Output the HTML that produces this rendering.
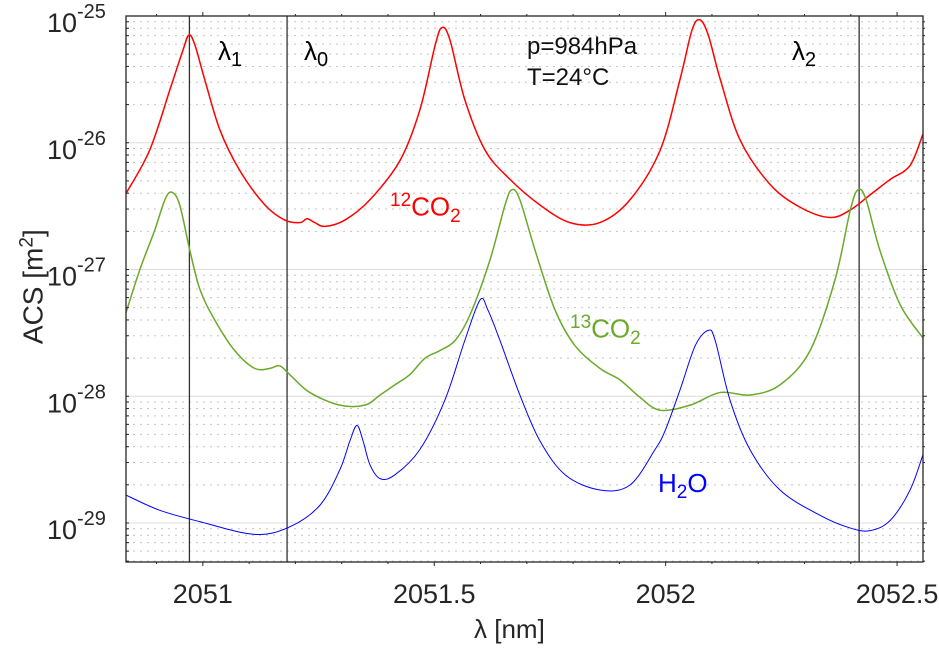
<!DOCTYPE html>
<html><head><meta charset="utf-8"><style>
html,body{margin:0;padding:0;background:#fff;}
svg{display:block;font-family:"Liberation Sans",sans-serif;}
</style></head><body>
<svg id="chart" width="939" height="648" viewBox="0 0 939 648">
<g id="grid"></g>
<g id="series"></g>
<g id="axes"></g>
<g id="labels"></g>
</svg>
<script>
const xTicks=[2051,2051.5,2052,2052.5];
const xTickLabels=["2051","2051.5","2052","2052.5"];
const yDecades=[-25,-26,-27,-28,-29];
const markerLines=[2050.971,2051.182,2052.418];
const redX=[2050.834,2050.885,2050.929,2050.957,2050.970,2050.983,2051.004,2051.037,2051.080,2051.134,2051.177,2051.210,2051.225,2051.242,2051.264,2051.307,2051.361,2051.426,2051.469,2051.502,2051.517,2051.534,2051.566,2051.610,2051.664,2051.728,2051.793,2051.858,2051.923,2051.988,2052.031,2052.057,2052.074,2052.092,2052.118,2052.161,2052.226,2052.291,2052.355,2052.399,2052.442,2052.485,2052.528,2052.556];
const redY=[-26.40,-26.06,-25.58,-25.27,-25.15,-25.23,-25.50,-25.90,-26.22,-26.49,-26.61,-26.63,-26.60,-26.63,-26.66,-26.61,-26.45,-26.14,-25.74,-25.23,-25.09,-25.19,-25.66,-26.06,-26.29,-26.49,-26.63,-26.63,-26.45,-26.06,-25.50,-25.11,-25.03,-25.15,-25.50,-25.98,-26.33,-26.51,-26.59,-26.53,-26.41,-26.29,-26.18,-25.93];
const greenX=[2050.834,2050.864,2050.896,2050.918,2050.933,2050.950,2050.972,2050.994,2051.026,2051.069,2051.112,2051.145,2051.166,2051.188,2051.231,2051.296,2051.350,2051.383,2051.415,2051.447,2051.480,2051.512,2051.545,2051.577,2051.620,2051.653,2051.668,2051.685,2051.718,2051.761,2051.804,2051.858,2051.901,2051.945,2051.988,2052.053,2052.118,2052.182,2052.247,2052.312,2052.366,2052.399,2052.416,2052.433,2052.463,2052.507,2052.556];
const greenY=[-27.34,-27.00,-26.69,-26.45,-26.39,-26.49,-26.85,-27.16,-27.40,-27.64,-27.78,-27.78,-27.76,-27.83,-27.97,-28.07,-28.07,-27.99,-27.91,-27.83,-27.70,-27.64,-27.56,-27.36,-26.93,-26.49,-26.37,-26.45,-26.85,-27.32,-27.60,-27.78,-27.87,-28.01,-28.11,-28.07,-27.97,-27.99,-27.91,-27.64,-27.08,-26.53,-26.37,-26.45,-26.85,-27.28,-27.54];
const blueX=[2050.834,2050.907,2050.994,2051.112,2051.188,2051.253,2051.296,2051.318,2051.333,2051.346,2051.361,2051.383,2051.415,2051.469,2051.523,2051.566,2051.599,2051.616,2051.642,2051.685,2051.728,2051.783,2051.858,2051.923,2051.977,2051.999,2052.031,2052.064,2052.092,2052.107,2052.139,2052.182,2052.247,2052.334,2052.399,2052.442,2052.485,2052.528,2052.556];
const blueY=[-28.78,-28.90,-28.99,-29.09,-29.03,-28.86,-28.58,-28.35,-28.23,-28.35,-28.54,-28.65,-28.62,-28.42,-28.03,-27.56,-27.24,-27.32,-27.56,-27.99,-28.35,-28.62,-28.74,-28.70,-28.42,-28.27,-27.95,-27.60,-27.48,-27.56,-28.03,-28.42,-28.74,-28.94,-29.04,-29.06,-28.98,-28.74,-28.46];

const L=126,R=923,T=16,B=562;
const X0=2050.834,X1=2052.556,YTOP=-25,DEC=126.75;
const sx=v=>L+(v-X0)/(X1-X0)*(R-L);
const sy=e=>T+(YTOP-e)*DEC;
const NS='http://www.w3.org/2000/svg';
function mk(tag,attrs,parent){const el=document.createElementNS(NS,tag);for(const k in attrs)el.setAttribute(k,attrs[k]);parent.appendChild(el);return el;}
const grid=document.getElementById('grid'),series=document.getElementById('series'),axes=document.getElementById('axes'),labels=document.getElementById('labels');

for(let d=-25;d>-30;d--){
  for(let m=1;m<=9;m++){
    const e=d-1+Math.log10(m);
    const y=sy(e); if(y<T-0.5||y>B) continue;
    const ln=mk('line',{x1:L,x2:R,y1:y,y2:y,stroke:m===1?'#dcdcdc':'#c4c4c4','stroke-width':1,'stroke-dasharray':m===1?'':'2,5'},grid);
    
    
    const t1=mk('line',{x1:L,x2:L-(m===1?0:0)+3,y1:y,y2:y,stroke:'#262626'},axes);
    
    
    const t2=mk('line',{x1:R,x2:R+(m===1?4:2),y1:y,y2:y,stroke:'#262626'},axes);
    
    
  }
}
for(let v=2050.9;v<=2052.56;v+=0.1){
  const x=sx(v); const major=Math.abs(v*2-Math.round(v*2))<1e-6;
  const a=mk('line',{x1:x,x2:x,y1:B,y2:B+(major?4:2),stroke:'#262626'},axes);
  
  
  const b=mk('line',{x1:x,x2:x,y1:T,y2:T-(major?4:2),stroke:'#262626'},axes);
  
  
}
xTicks.forEach((v,i)=>{
  const t=mk('text',{x:sx(v),y:603,'text-anchor':'middle','font-size':27,fill:'#262626'},labels);
  t.textContent=xTickLabels[i];
  
  
});
yDecades.forEach(d=>{
  const t=mk('text',{x:77,y:sy(d)+16,'text-anchor':'end','font-size':27,fill:'#262626'},labels);
  t.textContent='10';
  
  
  const s=mk('text',{x:77,y:sy(d)+2,'font-size':20,fill:'#262626'},labels);
  s.textContent=String(d);
  
  
});
markerLines.forEach(v=>{
  const l=mk('line',{x1:sx(v),x2:sx(v),y1:T,y2:B,stroke:'#333','stroke-width':1.3},series);
  
  
});
function path(xs,ys){
  const p=xs.map((x,i)=>[sx(x),sy(ys[i])]);
  let d='M'+p[0][0]+','+p[0][1];
  for(let i=0;i<p.length-1;i++){
    const p0=p[i-1]||p[i],p1=p[i],p2=p[i+1],p3=p[i+2]||p2;
    const c1=[p1[0]+(p2[0]-p0[0])/6,p1[1]+(p2[1]-p0[1])/6];
    const c2=[p2[0]-(p3[0]-p1[0])/6,p2[1]-(p3[1]-p1[1])/6];
    d+=` C${c1[0]},${c1[1]} ${c2[0]},${c2[1]} ${p2[0]},${p2[1]}`;
  }
  return d;
}
const r=mk('path',{d:path(redX,redY),fill:'none',stroke:'#ff0000','stroke-width':1.5},series);


const g=mk('path',{d:path(greenX,greenY),fill:'none',stroke:'#6aaa2a','stroke-width':1.5},series);


const bl=mk('path',{d:path(blueX,blueY),fill:'none',stroke:'#0000ff','stroke-width':1},series);


const box=mk('rect',{x:L,y:T,width:R-L,height:B-T,fill:'none',stroke:'#262626','stroke-width':1.3},axes);


</script>
<div style="position:absolute;left:0;top:0;width:939px;height:648px;pointer-events:none;font-family:'Liberation Sans',sans-serif;">
<div style="position:absolute;left:218px;top:36px;font-size:26px;">λ<sub style="font-size:20px;">1</sub></div>
<div style="position:absolute;left:304px;top:36px;font-size:26px;">λ<sub style="font-size:20px;">0</sub></div>
<div style="position:absolute;left:792px;top:36px;font-size:26px;">λ<sub style="font-size:20px;">2</sub></div>
<div style="position:absolute;left:527px;top:31px;font-size:24px;line-height:31px;color:#111;">p=984hPa<br>T=24°C</div>
<div style="position:absolute;left:390px;top:190px;font-size:26px;color:#ff0000;"><sup style="font-size:19px;">12</sup>CO<sub style="font-size:19px;">2</sub></div>
<div style="position:absolute;left:570px;top:312px;font-size:26px;color:#6aaa2a;"><sup style="font-size:19px;">13</sup>CO<sub style="font-size:19px;">2</sub></div>
<div style="position:absolute;left:658px;top:468px;font-size:26px;color:#0000ff;">H<sub style="font-size:19px;">2</sub>O</div>
<div style="position:absolute;left:474px;top:614px;font-size:26px;color:#262626;">λ [nm]</div>
<div style="position:absolute;left:-42px;top:270px;width:150px;text-align:center;font-size:28px;color:#262626;transform:rotate(-90deg);">ACS [m<sup style="font-size:19px;">2</sup>]</div>
</div>
</body></html>
